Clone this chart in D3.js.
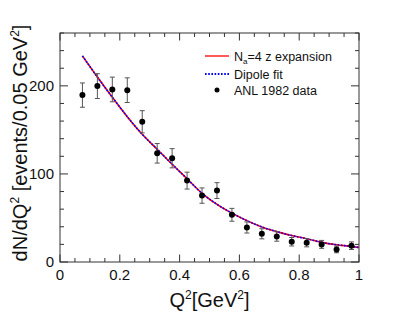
<!DOCTYPE html>
<html><head><meta charset="utf-8">
<script src="https://cdn.jsdelivr.net/npm/d3@7"></script>
<style>body{margin:0;background:#fff}svg{display:block;font-family:"Liberation Sans",Arial,Helvetica,sans-serif}</style>
</head><body><svg id="c" width="399" height="328"></svg>
<script>
const dataQ2 = [0.075,0.125,0.175,0.225,0.275,0.325,0.375,0.425,0.475,0.525,0.575,0.625,0.675,0.725,0.775,0.825,0.875,0.925,0.975];
const dataN  = [189.5,199.7,195.9,195.1,159.2,123.4,117.8,92.4,75.4,81.1,53.6,39.2,32.0,29.0,23.0,21.9,20.0,14.3,18.5];
const dataErr= [13.8,14.1,14.0,14.0,12.6,11.1,10.9,9.6,8.7,9.0,7.3,6.3,5.7,5.4,4.8,4.7,4.5,3.8,4.3];
const curveQ2 = [0.075,0.125,0.175,0.225,0.275,0.325,0.375,0.425,0.475,0.525,0.575,0.625,0.675,0.725,0.775,0.825,0.875,0.925,0.975,1.0];
const zexpN   = [234,210,187,165,145,128,111,94.5,78,65.5,55.5,47,39.8,34.5,30,26.4,22.3,19.6,17.7,16.5];
const dipoleN = [234,210,187,165,145,128,111,94.5,78,65.5,55.5,47,39.8,34.5,30,26.4,22.3,19.6,17.7,16.5];
const xTicks = [0,0.2,0.4,0.6,0.8,1];
const yTicks = [0,100,200];
const legendLabels = ["=4 z expansion","Dipole fit","ANL 1982 data"];

const svg = d3.select("#c");
const L=60,R=359,T=33,B=262;
const x = d3.scaleLinear().domain([0,1]).range([L,R]);
const y = d3.scaleLinear().domain([0,260]).range([B,T]);
const ax="#333";

// frame
svg.append("rect").attr("x",L).attr("y",T).attr("width",R-L).attr("height",B-T)
  .attr("fill","none").attr("stroke",ax).attr("stroke-width",1);

// ticks
const g=svg.append("g").attr("stroke",ax).attr("stroke-width",1);
d3.range(0,1.0001,0.05).forEach(v=>{
  const major = Math.abs(v*5-Math.round(v*5))<1e-6;
  const len = major?7.5:4;
  g.append("line").attr("x1",x(v)).attr("x2",x(v)).attr("y1",B).attr("y2",B-len);
  g.append("line").attr("x1",x(v)).attr("x2",x(v)).attr("y1",T).attr("y2",T+len);
});
d3.range(0,261,20).forEach(v=>{
  const major = v%100===0;
  const len = major?8:4;
  g.append("line").attr("y1",y(v)).attr("y2",y(v)).attr("x1",L).attr("x2",L+len);
  g.append("line").attr("y1",y(v)).attr("y2",y(v)).attr("x1",R).attr("x2",R-len);
});

// tick labels
svg.append("g").selectAll("text").data(xTicks).join("text")
  .attr("x",d=>x(d)).attr("y",280).attr("text-anchor","middle")
  .attr("font-size",15).attr("fill","#111").text(d=>d3.format("~g")(d));
svg.append("g").selectAll("text").data(yTicks).join("text")
  .attr("x",54).attr("y",d=>y(d)).attr("dy","0.36em").attr("text-anchor","end")
  .attr("font-size",15).attr("fill","#111").text(d=>d);

// axis titles
const xt=svg.append("text").attr("x",209.5).attr("y",307).attr("text-anchor","middle").attr("font-size",20).attr("fill","#111");
xt.append("tspan").text("Q");
xt.append("tspan").attr("font-size",12).attr("dy",-8).text("2");
xt.append("tspan").attr("dy",8).text("[GeV");
xt.append("tspan").attr("font-size",12).attr("dy",-8).text("2");
xt.append("tspan").attr("dy",8).text("]");

const yt=svg.append("text").attr("transform","translate(27,143) rotate(-90)").attr("text-anchor","middle").attr("font-size",20).attr("fill","#111");
yt.append("tspan").text("dN/dQ");
yt.append("tspan").attr("font-size",12).attr("dy",-8).text("2");
yt.append("tspan").attr("dy",8).text(" [events/0.05 GeV");
yt.append("tspan").attr("font-size",12).attr("dy",-8).text("2");
yt.append("tspan").attr("dy",8).text("]");

// curves
const line = d3.line().x((d,i)=>x(curveQ2[i])).y(d=>y(d)).curve(d3.curveMonotoneX);
svg.append("path").attr("d",line(zexpN)).attr("fill","none").attr("stroke","#ff0000").attr("stroke-width",1.6);
svg.append("path").attr("d",line(dipoleN)).attr("fill","none").attr("stroke","#0000ff").attr("stroke-width",1.6).attr("stroke-dasharray","1.6,1.6");

// data
const pts = svg.append("g");
dataQ2.forEach((q,i)=>{
  const cx=x(q), cy=y(dataN[i]), y1=y(dataN[i]+dataErr[i]), y2=y(dataN[i]-dataErr[i]);
  const eg=pts.append("g").attr("stroke","#555").attr("stroke-width",1);
  eg.append("line").attr("x1",cx).attr("x2",cx).attr("y1",y1).attr("y2",y2);
  eg.append("line").attr("x1",cx-2.5).attr("x2",cx+2.5).attr("y1",y1).attr("y2",y1);
  eg.append("line").attr("x1",cx-2.5).attr("x2",cx+2.5).attr("y1",y2).attr("y2",y2);
  pts.append("circle").attr("cx",cx).attr("cy",cy).attr("r",3).attr("fill","#000");
});

// legend
const lg=svg.append("g").attr("font-size",12.5).attr("fill","#111");
lg.append("line").attr("x1",205).attr("x2",229).attr("y1",56).attr("y2",56).attr("stroke","#ff0000").attr("stroke-width",1.3);
lg.append("line").attr("x1",205).attr("x2",229).attr("y1",74).attr("y2",74).attr("stroke","#0000ff").attr("stroke-width",1.8).attr("stroke-dasharray","1.6,1.6");
lg.append("circle").attr("cx",217).attr("cy",90).attr("r",2.5).attr("fill","#000");
const t1=lg.append("text").attr("x",234).attr("y",60.5);
t1.append("tspan").text("N");
t1.append("tspan").attr("font-size",8).attr("dy",3).text("a");
t1.append("tspan").attr("dy",-3).text(legendLabels[0]);
lg.append("text").attr("x",234).attr("y",78.5).text(legendLabels[1]);
lg.append("text").attr("x",234).attr("y",94.5).text(legendLabels[2]);
</script></body></html>
